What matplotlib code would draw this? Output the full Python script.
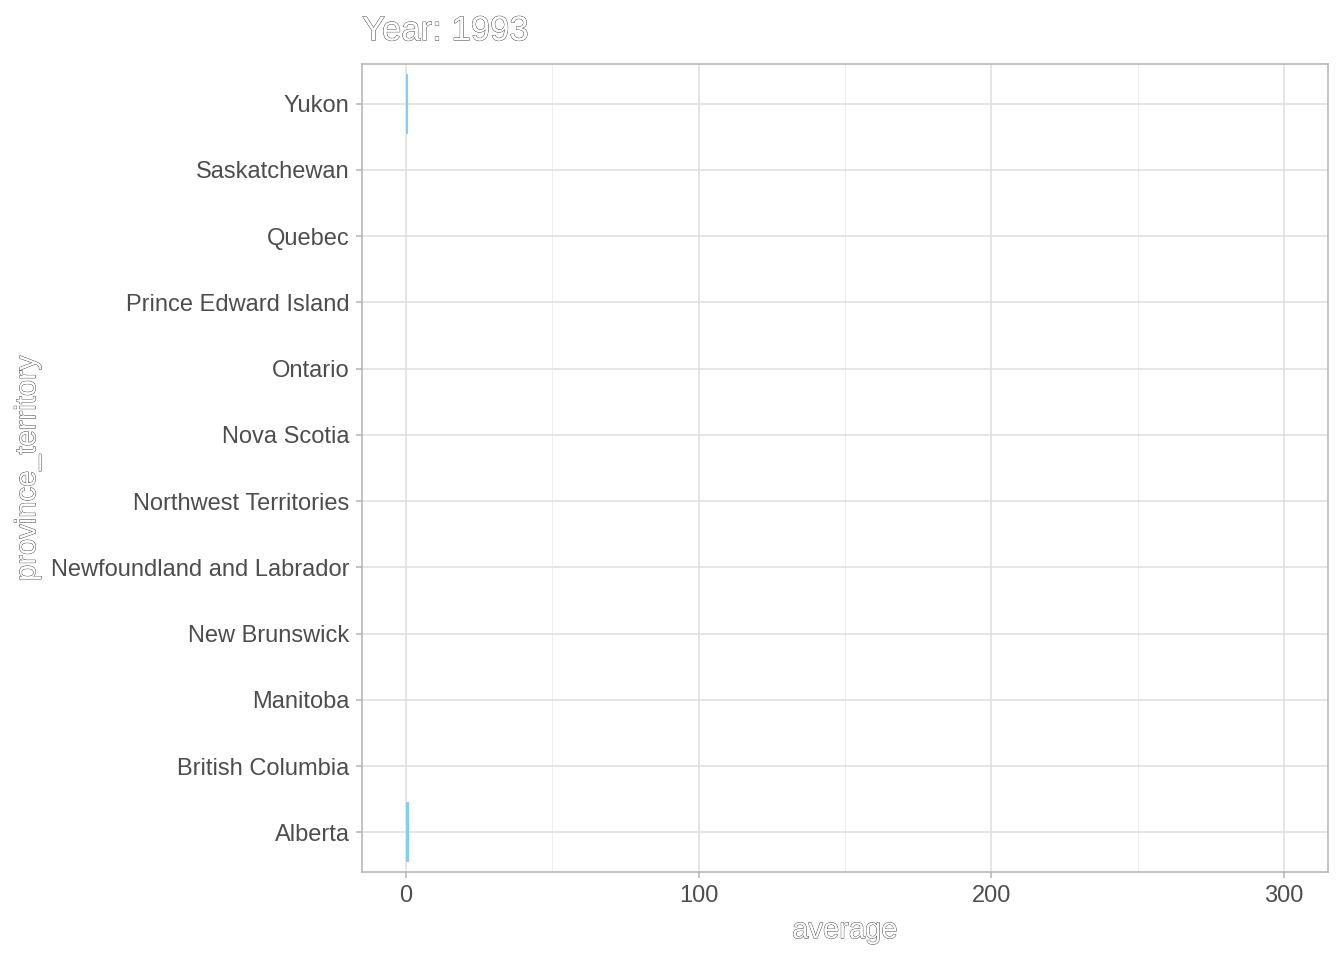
import matplotlib
matplotlib.use("Agg")
import matplotlib.pyplot as plt
import matplotlib.patheffects as pe
import numpy as np

plt.rcParams['font.family'] = ['Liberation Sans', 'DejaVu Sans']

# datos del cuadro (año 1993)
provincias = ["Alberta", "British Columbia", "Manitoba", "New Brunswick",
              "Newfoundland and Labrador", "Northwest Territories", "Nova Scotia",
              "Ontario", "Prince Edward Island", "Quebec", "Saskatchewan", "Yukon"]
promedio = [1.0, 0, 0, 0, 0, 0, 0, 0, 0, 0, 0, 0.6]
ticks_x = [0, 100, 200, 300]
titulo = "Year: 1993"

gris_texto = "#4D4D4D"
gris_borde = "#B3B3B3"
hueco = [pe.Stroke(linewidth=0.6, foreground="#333333"), pe.Normal()]

fig = plt.figure(figsize=(13.44, 9.6), dpi=100)
ax = fig.add_axes([362/1344, 1 - 872/960, (1328-362)/1344, (872-64)/960])

y = np.arange(len(provincias))
ax.barh(y, promedio, height=0.9, color="#87CEEB", zorder=3)

ax.set_xlim(-15, 315)
ax.set_ylim(-0.6, len(provincias) - 0.4)
ax.set_xticks(ticks_x)
ax.set_xticks([50, 150, 250], minor=True)
ax.set_yticks(y)
ax.set_yticklabels(provincias)

ax.grid(True, which="major", color="#DEDEDE", linewidth=1.1, zorder=0)
ax.grid(True, which="minor", axis="x", color="#EBEBEB", linewidth=0.6, zorder=0)
ax.set_axisbelow(True)

for s in ax.spines.values():
    s.set_color(gris_borde)
    s.set_linewidth(1.1)

ax.tick_params(which="major", length=4, width=1.1, color=gris_borde,
               labelcolor=gris_texto, labelsize=17, pad=5)
ax.tick_params(which="minor", length=0)

ax.set_xlabel("average", fontsize=21, color="white", path_effects=hueco, labelpad=7)
ax.set_ylabel("province_territory", fontsize=21, color="white", path_effects=hueco, labelpad=7)
ax.set_title(titulo, fontsize=25, color="white", path_effects=hueco, loc="left", pad=17)

fig.savefig("out.png", dpi=100)
